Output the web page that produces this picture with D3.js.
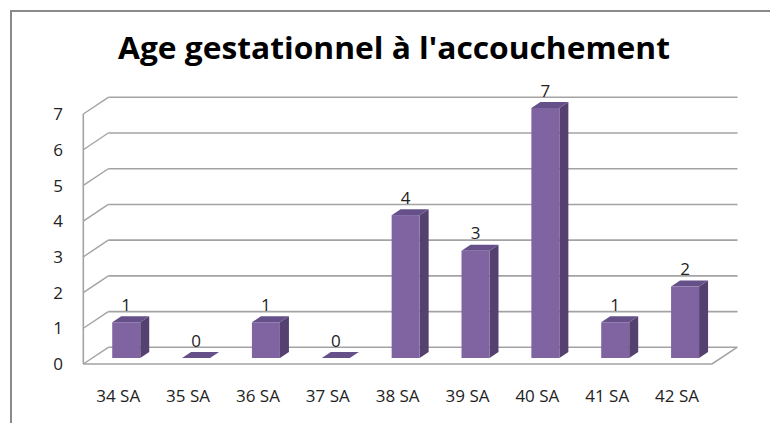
<!DOCTYPE html>
<html>
<head>
<meta charset="utf-8">
<script src="https://cdn.jsdelivr.net/npm/d3@7"></script>
<style>
  html, body { margin: 0; padding: 0; background: #fff; }
  svg { display: block; }
</style>
</head>
<body>
<div id="chart"></div>
<script>
const title = "Age gestationnel à l'accouchement";
const categories = ["34 SA", "35 SA", "36 SA", "37 SA", "38 SA", "39 SA", "40 SA", "41 SA", "42 SA"];
const values = [1, 0, 1, 0, 4, 3, 7, 1, 2];
const yTicks = [0, 1, 2, 3, 4, 5, 6, 7];

const W = 770, H = 423;
const svg = d3.select("#chart").append("svg").attr("width", W).attr("height", H);

// Frame (top and left borders)
svg.append("path")
  .attr("d", `M11,${H} L11,11 L${W},11`)
  .attr("fill", "none").attr("stroke", "#8a8a8a").attr("stroke-width", 2);

// Title
svg.append("text")
  .attr("x", 118).attr("y", 59)
  .attr("textLength", 552).attr("lengthAdjust", "spacingAndGlyphs")
  .attr("font-family", "Open Sans, sans-serif").attr("font-weight", 700)
  .attr("font-size", 31).attr("fill", "#000")
  .text(title);

// Scales (front plane)
const x = d3.scaleBand().domain(categories).range([83.3, 712]).padding(0);
const y = d3.scaleLinear().domain([0, 7]).range([364, 114]);

// Depth of the floor / walls
const DX = 25, DY = -16.7;
// Bar placement inside the depth and bar dimensions
const BX0 = 8, BY0 = -6;   // front face offset from front plane
const BDX = 9, BDY = -6;   // bar depth
const BW = 28;             // bar front width

const gridColor = "#a3a3a3";

// Walls: gridlines
const grid = svg.append("g");
yTicks.forEach(t => {
  const yf = y(t), yb = yf + DY;
  grid.append("line")
    .attr("x1", 83.3 + DX).attr("x2", 712 + DX + 0.5)
    .attr("y1", yb).attr("y2", yb)
    .attr("stroke", gridColor).attr("stroke-width", 1.6);
  grid.append("line")
    .attr("x1", 83.3).attr("y1", yf)
    .attr("x2", 83.3 + DX).attr("y2", yb)
    .attr("stroke", gridColor).attr("stroke-width", 1.4);
});
// Left vertical axis line
grid.append("line")
  .attr("x1", 83.3).attr("x2", 83.3)
  .attr("y1", y(7)).attr("y2", y(0))
  .attr("stroke", gridColor).attr("stroke-width", 1.6);
// Floor outline
grid.append("path")
  .attr("d", `M83.3,${y(0)} L712,${y(0)} L${712 + DX},${y(0) + DY}`)
  .attr("fill", "none").attr("stroke", gridColor).attr("stroke-width", 1.6);

// Y tick labels
svg.append("g").selectAll("text").data(yTicks).join("text")
  .attr("x", 58).attr("y", d => y(d)).attr("dy", "0.36em")
  .attr("text-anchor", "middle")
  .attr("font-family", "Open Sans, sans-serif").attr("font-size", 17)
  .attr("fill", "#222")
  .text(d => d);

// X labels
svg.append("g").selectAll("text").data(categories).join("text")
  .attr("x", d => x(d) + x.bandwidth() / 2).attr("y", 401.5)
  .attr("text-anchor", "middle")
  .attr("font-family", "Open Sans, sans-serif").attr("font-size", 17)
  .attr("fill", "#222")
  .text(d => d);

// Bars
const data = categories.map((c, i) => ({ c, v: values[i] }));
const bars = svg.append("g").selectAll("g").data(data).join("g");

const frontX = d => x(d.c) + x.bandwidth() / 2 - BW / 2 + BX0;
const botY = () => y(0) + BY0;
const topY = d => y(d.v) + BY0;

// side face
bars.append("path")
  .attr("d", d => {
    const xr = frontX(d) + BW, yt = topY(d), yb = botY();
    return `M${xr},${yt} L${xr + BDX},${yt + BDY} L${xr + BDX},${yb + BDY} L${xr},${yb} Z`;
  })
  .attr("fill", "#54416f");
// front face
bars.append("rect")
  .attr("x", d => frontX(d))
  .attr("y", d => topY(d))
  .attr("width", BW)
  .attr("height", d => botY() - topY(d))
  .attr("fill", "#8064a2");
// top face
bars.append("path")
  .attr("d", d => {
    const xl = frontX(d), yt = topY(d);
    return `M${xl},${yt} L${xl + BW},${yt} L${xl + BW + BDX},${yt + BDY} L${xl + BDX},${yt + BDY} Z`;
  })
  .attr("fill", "#65508a");

// Value labels
bars.append("text")
  .attr("x", d => frontX(d) + BW / 2)
  .attr("y", d => topY(d) - 11.5)
  .attr("text-anchor", "middle")
  .attr("font-family", "Open Sans, sans-serif").attr("font-size", 17)
  .attr("fill", "#222")
  .text(d => d.v);
</script>
</body>
</html>
